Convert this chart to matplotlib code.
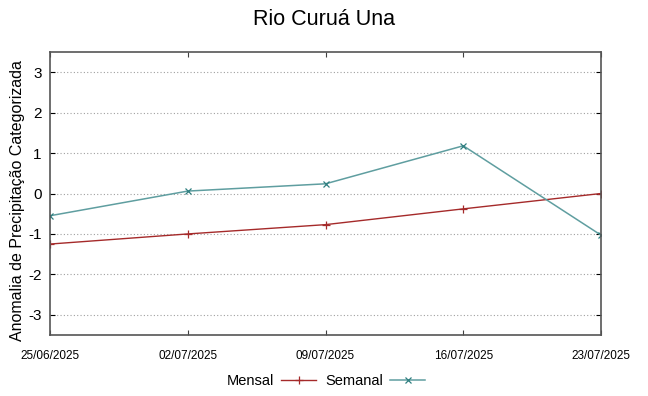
import matplotlib.pyplot as plt
import pandas as pd

plt.rcParams["font.family"] = ["Liberation Sans", "DejaVu Sans"]
plt.rcParams["axes.unicode_minus"] = False

# data
datas = ["25/06/2025", "02/07/2025", "09/07/2025", "16/07/2025", "23/07/2025"]
mensal = [-1.25, -1.0, -0.77, -0.38, 0.0]
semanal = [-0.55, 0.06, 0.24, 1.18, -1.03]
yticks = [-3, -2, -1, 0, 1, 2, 3]

x = pd.to_datetime(datas, format="%d/%m/%Y")

fig = plt.figure(figsize=(6.48, 3.96), dpi=100)
ax = fig.add_axes([0.0772, 0.154, 0.8503, 0.7147])

l1, = ax.plot(x, mensal, color="#a52a2a", lw=1, marker="+", ms=6, mew=0.9, label="Mensal")
l2, = ax.plot(x, semanal, color="#5f9ea0", lw=1.1, marker="x", ms=4.5, mew=0.9,
              mec="#2f7f80", label="Semanal")

ax.set_xlim(x[0], x[-1])
ax.set_ylim(-3.5, 3.5)
ax.set_yticks(yticks)
ax.set_xticks(x)
ax.set_xticklabels(datas)
ax.tick_params(axis="x", labelsize=8.5, direction="in", length=3.5, width=0.8,
               pad=11, color="#404040", top=True)
ax.tick_params(axis="y", labelsize=11, direction="in", length=3.5, width=0.8,
               color="black", right=True, pad=6)
ax.grid(axis="y", linestyle=(0, (1, 2)), color="#a0a0a0", lw=0.8)
for s in ax.spines.values():
    s.set_color("#555555")
    s.set_linewidth(1.2)

ax.set_ylabel("Anomalia de Precipitação Categorizada", fontsize=11.5)
ax.yaxis.set_label_coords(-0.046, 0.475)
fig.suptitle("Rio Curuá Una", fontsize=15.5, y=0.978)

fig.legend(handles=[l1, l2], loc="center", bbox_to_anchor=(0.503, 0.037), ncol=2,
           frameon=False, markerfirst=False, fontsize=10.5, handlelength=2.4,
           columnspacing=0.6, handletextpad=0.5)

fig.savefig("out.png", dpi=100)
